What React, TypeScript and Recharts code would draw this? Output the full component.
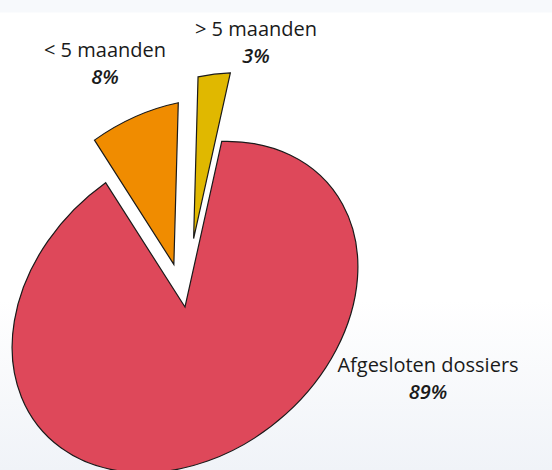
import React from "react";
import { PieChart, Pie, Cell, Sector } from "recharts";

// ---- data ----
const categories = ["Afgesloten dossiers", "> 5 maanden", "< 5 maanden"];
const values = [89, 3, 8];
const valueLabels = ["89%", "3%", "8%"];

const data = categories.map((name, i) => ({ name, value: values[i], label: valueLabels[i] }));

// ---- style / layout ----
const COLORS = ["#DE485A", "#E0B800", "#F08C00"];
const EXPLODE = [0, 69, 44];
const W = 552;
const H = 470;
const CX = 185;
const CY = 307;
const R = 100;
// tilted-ellipse projection of the pie disc
const SEMI_A = 189;
const SEMI_B = 147;
const TILT = (40 * Math.PI) / 180;
const MA = (SEMI_A * Math.cos(TILT)) / R;
const MB = (-SEMI_A * Math.sin(TILT)) / R;
const MC = (SEMI_B * Math.sin(TILT)) / R;
const MD = (SEMI_B * Math.cos(TILT)) / R;
// label anchors, relative to pie centre
const LABEL_OFFSETS = [
  { dx: 243, dy: 65 },
  { dx: 71, dy: -271 },
  { dx: -80, dy: -250 },
];
const FONT = "'Open Sans', sans-serif";

const RAD = Math.PI / 180;

function explodeVec(midAngle: number, dist: number) {
  const lx = Math.cos(midAngle * RAD);
  const ly = -Math.sin(midAngle * RAD);
  const x = MA * lx + MC * ly;
  const y = MB * lx + MD * ly;
  const len = Math.hypot(x, y) || 1;
  return { x: (x / len) * dist, y: (y / len) * dist };
}

const renderShape = (props: any) => {
  const { cx, cy, startAngle, endAngle, fill } = props;
  const idx = categories.indexOf(props.payload?.name ?? props.name);
  const mid = (startAngle + endAngle) / 2;
  const e = explodeVec(mid, EXPLODE[idx] ?? 0);
  const tx = cx + e.x;
  const ty = cy + e.y;
  return (
    <g transform={`translate(${tx} ${ty}) matrix(${MA} ${MB} ${MC} ${MD} 0 0) translate(${-cx} ${-cy})`}>
      <Sector
        cx={cx}
        cy={cy}
        innerRadius={0}
        outerRadius={props.outerRadius}
        startAngle={startAngle}
        endAngle={endAngle}
        fill={fill}
        stroke="#1a1a1a"
        strokeWidth={1.2}
        style={{ vectorEffect: "non-scaling-stroke" } as any}
      />
    </g>
  );
};

const renderLabel = (props: any) => {
  const idx = props.index;
  const off = LABEL_OFFSETS[idx];
  const x = CX + off.dx;
  const y = CY + off.dy;
  return (
    <g>
      <text x={x} y={y} textAnchor="middle" fill="#1a1a1a" fontFamily={FONT} fontSize={20}>
        {categories[idx]}
      </text>
      <text
        x={x}
        y={y + 27}
        textAnchor="middle"
        fill="#1a1a1a"
        fontFamily={FONT}
        fontSize={20}
        fontStyle="italic"
        fontWeight={600}
      >
        {valueLabels[idx]}
      </text>
    </g>
  );
};

export default function App() {
  return (
    <div
      style={{
        position: "absolute",
        left: 0,
        top: 0,
        width: W,
        height: H,
        background:
          "linear-gradient(to bottom, #f7f9fc 0px, #f7f9fc 12px, #ffffff 13px, #ffffff 300px, #f0f3f8 470px)",
      }}
    >
      <PieChart width={W} height={H} margin={{ top: 0, right: 0, bottom: 0, left: 0 }}>
        <Pie
          data={data}
          dataKey="value"
          nameKey="name"
          cx={CX}
          cy={CY}
          outerRadius={R}
          startAngle={84.2}
          endAngle={444.2}
          isAnimationActive={false}
          shape={renderShape}
          label={renderLabel}
          labelLine={false}
          stroke="#1a1a1a"
        >
          {data.map((d, i) => (
            <Cell key={d.name} fill={COLORS[i]} />
          ))}
        </Pie>
      </PieChart>
    </div>
  );
}
